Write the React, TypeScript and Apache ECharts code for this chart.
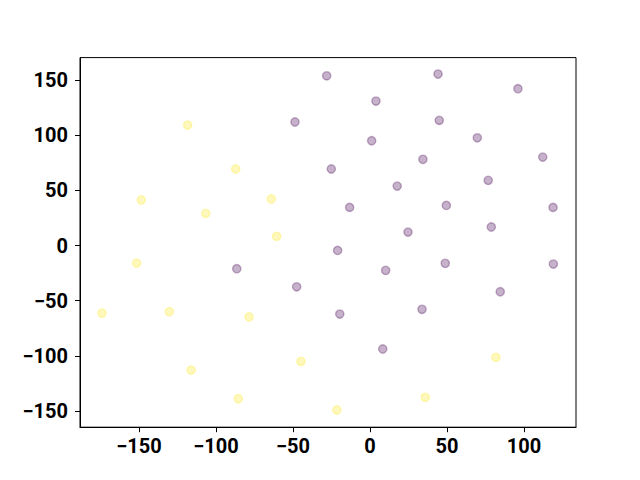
import React, { useEffect, useRef } from "react";
import * as echarts from "echarts";

const purpleX = [-28.1, -48.7, 44.2, 96.1, 3.9, 45.0, 69.7, 1.1, 34.4, 112.2, -25.1, 76.8, 17.7, -13.2, 49.6, 118.9, 78.8, 24.7, -86.5, -47.6, -21.0, 10.2, 48.9, 119.1, 84.6, -19.6, 33.8, 8.3];
const purpleY = [153.9, 112.0, 155.5, 142.2, 131.0, 113.5, 97.7, 95.0, 78.2, 80.2, 69.4, 59.1, 53.9, 34.6, 36.4, 34.6, 16.8, 12.2, -21.0, -37.4, -4.4, -22.5, -16.1, -16.8, -41.9, -62.1, -57.8, -93.8];
const yellowX = [-118.4, -87.2, -148.5, -64.1, -106.6, -60.6, -151.5, -174.0, -130.3, -78.5, -116.1, -44.8, -85.5, 81.8, 35.9, -21.5];
const yellowY = [109.2, 69.4, 41.3, 42.2, 29.2, 8.3, -15.9, -61.2, -60.0, -64.8, -112.9, -105.0, -138.9, -101.4, -137.6, -149.1];

const xTicks = [-150, -100, -50, 0, 50, 100];
const yTicks = [-150, -100, -50, 0, 50, 100, 150];
const xRange = [-188.3, 133.8];
const yRange = [-164.7, 170.4];

const fmt = (v: number) => (v < 0 ? "\u2212" + Math.abs(v) : String(v));

export default function App() {
  const ref = useRef<HTMLDivElement>(null);
  useEffect(() => {
    if (!ref.current) return;
    const chart = echarts.init(ref.current, null, { renderer: "svg" });
    const labelStyle = {
      fontFamily: "Roboto",
      fontWeight: "bold" as const,
      fontSize: 20,
      color: "#000",
      formatter: fmt,
    };
    chart.setOption({
      animation: false,
      backgroundColor: "#fff",
      grid: {
        left: 80,
        right: 64,
        top: 57.6,
        bottom: 52.8,
        show: true,
        borderColor: "#000",
        borderWidth: 1,
        backgroundColor: "transparent",
      },
      xAxis: {
        type: "value",
        min: xRange[0],
        max: xRange[1],
        splitLine: { show: false },
        axisLine: { show: true, onZero: false, lineStyle: { color: "#000", width: 1 } },
        axisTick: { show: true, length: 5, customValues: xTicks, lineStyle: { color: "#000" } },
        axisLabel: { ...labelStyle, margin: 9, customValues: xTicks },
      },
      yAxis: {
        type: "value",
        min: yRange[0],
        max: yRange[1],
        splitLine: { show: false },
        axisLine: { show: true, onZero: false, lineStyle: { color: "#000", width: 1 } },
        axisTick: { show: true, length: 5, customValues: yTicks, lineStyle: { color: "#000" } },
        axisLabel: { ...labelStyle, margin: 12, customValues: yTicks },
      },
      series: [
        {
          type: "scatter",
          symbolSize: 8.3,
          data: purpleX.map((x, i) => [x, purpleY[i]]),
          itemStyle: {
            color: "rgba(68,1,84,0.3)",
            borderColor: "rgba(68,1,84,0.3)",
            borderWidth: 1.4,
            opacity: 1,
          },
        },
        {
          type: "scatter",
          symbolSize: 8.3,
          data: yellowX.map((x, i) => [x, yellowY[i]]),
          itemStyle: {
            color: "rgba(253,231,37,0.3)",
            borderColor: "rgba(253,231,37,0.3)",
            borderWidth: 1.4,
            opacity: 1,
          },
        },
      ],
    });
    return () => chart.dispose();
  }, []);
  return (
    <div
      ref={ref}
      style={{ position: "fixed", left: 0, top: 0, width: 640, height: 480 }}
    />
  );
}
